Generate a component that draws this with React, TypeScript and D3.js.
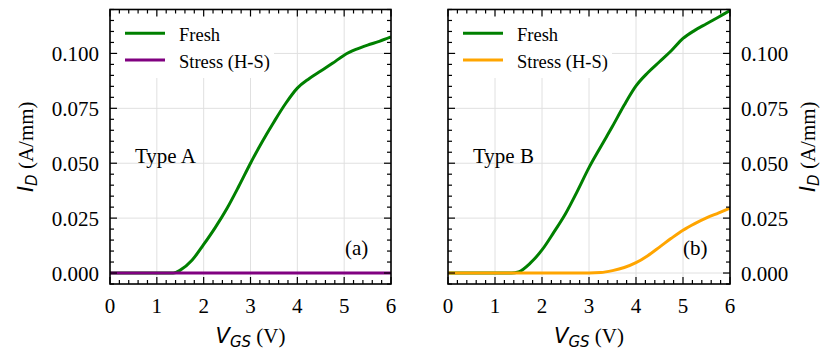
import React from "react";
import * as d3 from "d3";

// gate voltage sweep (V)
const vgs = [0, 0.25, 0.5, 0.75, 1, 1.25, 1.35, 1.5, 1.75, 2, 2.25, 2.5, 2.75, 3, 3.25, 3.5, 3.75, 4, 4.25, 4.5, 4.75, 5, 5.25, 5.5, 5.75, 6];

// drain current (A/mm)
const freshA = [0, 0, 0, 0, 0, 0, 0, 0.0013, 0.0058, 0.013, 0.0208, 0.0295, 0.0395, 0.05, 0.0598, 0.0688, 0.0772, 0.0842, 0.0885, 0.092, 0.0955, 0.0992, 0.1018, 0.1038, 0.1055, 0.1075];
const stressA = [0, 0, 0, 0, 0, 0, 0, 0, 0, 0, 0, 0, 0, 0, 0, 0, 0, 0, 0, 0, 0, 0, 0, 0, 0, 0];
const freshB = [0, 0, 0, 0, 0, 0, 0, 0.0005, 0.0045, 0.0105, 0.0185, 0.027, 0.0372, 0.048, 0.0575, 0.0668, 0.0765, 0.0852, 0.0912, 0.0962, 0.1012, 0.1068, 0.1105, 0.1135, 0.1165, 0.1195];
const stressB = [0, 0, 0, 0, 0, 0, 0, 0, 0, 0, 0, 0, 0, 0, 0.0002, 0.0011, 0.0025, 0.0047, 0.0079, 0.0118, 0.0158, 0.0195, 0.0225, 0.0251, 0.0273, 0.0295];

const xTicks = [0, 1, 2, 3, 4, 5, 6];
const yTicks = [0, 0.025, 0.05, 0.075, 0.1];
const legendLabels = ["Fresh", "Stress (H-S)"];

const W = 822;
const H = 352;
const top = 9.5;
const bottom = 284;
const serif = "'Liberation Serif', 'Times New Roman', serif";
const sans = "'DejaVu Sans', sans-serif";

type PanelProps = {
  left: number;
  right: number;
  fresh: number[];
  stress: number[];
  stressColor: string;
  typeLabel: string;
  tag: string;
  tagX: number;
  yOnRight: boolean;
  id: string;
};

function Panel({ left, right, fresh, stress, stressColor, typeLabel, tag, tagX, yOnRight, id }: PanelProps) {
  const x = d3.scaleLinear().domain([0, 6]).range([left, right]);
  const y = d3.scaleLinear().domain([-0.005, 0.12]).range([bottom, top]);

  const line = d3
    .line<number>()
    .x((_, i) => x(vgs[i]))
    .y((d) => y(d))
    .curve(d3.curveMonotoneX);

  const xMinor = d3.range(0, 6.001, 0.2).filter((v) => Math.abs(v - Math.round(v)) > 0.01);
  const yMinor = d3.range(-0.005, 0.1201, 0.005).filter((v) => Math.abs(v / 0.025 - Math.round(v / 0.025)) > 0.01);

  const majorLen = 7;
  const minorLen = 4;
  const tickStroke = 1.2;

  const legX = left + 15;
  const legendBoxW = 156;

  const labelX = yOnRight ? right + 11 : left - 11;
  const axisLabelX = yOnRight ? 815 : 32.5;
  const cy = (top + bottom) / 2;
  const cx = (left + right) / 2;

  return (
    <g>
      <defs>
        <clipPath id={id}>
          <rect x={left} y={top} width={right - left} height={bottom - top} />
        </clipPath>
      </defs>

      {/* grid */}
      {xTicks.map((t) => (
        <line key={"gx" + t} x1={x(t)} x2={x(t)} y1={top} y2={bottom} stroke="#e0e0e0" strokeWidth={1} />
      ))}
      {yTicks.map((t) => (
        <line key={"gy" + t} x1={left} x2={right} y1={y(t)} y2={y(t)} stroke="#e0e0e0" strokeWidth={1} />
      ))}

      {/* legend background hides grid */}
      <rect x={left + 8} y={16} width={legendBoxW} height={62} fill="white" />

      {/* curves */}
      <g clipPath={`url(#${id})`}>
        <path d={line(fresh) ?? ""} fill="none" stroke="#008000" strokeWidth={3} />
        <path d={line(stress) ?? ""} fill="none" stroke={stressColor} strokeWidth={3} />
      </g>

      {/* legend */}
      <line x1={legX} x2={legX + 40} y1={33.3} y2={33.3} stroke="#008000" strokeWidth={3} />
      <line x1={legX} x2={legX + 40} y1={60} y2={60} stroke={stressColor} strokeWidth={3} />
      <text x={legX + 54} y={40.5} fontFamily={serif} fontSize={18.5}>{legendLabels[0]}</text>
      <text x={legX + 54} y={67.5} fontFamily={serif} fontSize={18.5}>{legendLabels[1]}</text>

      {/* annotations */}
      <text x={left + 25} y={163} fontFamily={serif} fontSize={21}>{typeLabel}</text>
      <text x={tagX} y={255} fontFamily={serif} fontSize={21}>{tag}</text>

      {/* ticks inward on all sides */}
      {xTicks.map((t) => (
        <g key={"tx" + t}>
          <line x1={x(t)} x2={x(t)} y1={bottom} y2={bottom - majorLen} stroke="black" strokeWidth={tickStroke} />
          <line x1={x(t)} x2={x(t)} y1={top} y2={top + majorLen} stroke="black" strokeWidth={tickStroke} />
        </g>
      ))}
      {xMinor.map((t) => (
        <g key={"mx" + t}>
          <line x1={x(t)} x2={x(t)} y1={bottom} y2={bottom - minorLen} stroke="black" strokeWidth={tickStroke} />
          <line x1={x(t)} x2={x(t)} y1={top} y2={top + minorLen} stroke="black" strokeWidth={tickStroke} />
        </g>
      ))}
      {yTicks.map((t) => (
        <g key={"ty" + t}>
          <line x1={left} x2={left + majorLen} y1={y(t)} y2={y(t)} stroke="black" strokeWidth={tickStroke} />
          <line x1={right} x2={right - majorLen} y1={y(t)} y2={y(t)} stroke="black" strokeWidth={tickStroke} />
        </g>
      ))}
      {yMinor.map((t) => (
        <g key={"my" + t}>
          <line x1={left} x2={left + minorLen} y1={y(t)} y2={y(t)} stroke="black" strokeWidth={tickStroke} />
          <line x1={right} x2={right - minorLen} y1={y(t)} y2={y(t)} stroke="black" strokeWidth={tickStroke} />
        </g>
      ))}

      {/* frame */}
      <rect x={left} y={top} width={right - left} height={bottom - top} fill="none" stroke="black" strokeWidth={1.6} />

      {/* tick labels */}
      {xTicks.map((t) => (
        <text key={"lx" + t} x={x(t)} y={313} textAnchor="middle" fontFamily={serif} fontSize={21}>
          {t}
        </text>
      ))}
      {yTicks.map((t) => (
        <text
          key={"ly" + t}
          x={labelX}
          y={y(t) + 7.5}
          textAnchor={yOnRight ? "start" : "end"}
          fontFamily={serif}
          fontSize={21}
        >
          {d3.format(".3f")(t)}
        </text>
      ))}

      {/* axis labels */}
      <text x={cx} y={343} textAnchor="middle" fontSize={21} fontFamily={serif}>
        <tspan fontFamily={sans} fontStyle="italic">V</tspan>
        <tspan fontFamily={sans} fontStyle="italic" fontSize={15} dy={4}>GS</tspan>
        <tspan dy={-4}> (V)</tspan>
      </text>
      <text
        transform={`translate(${axisLabelX},${cy}) rotate(-90)`}
        textAnchor="middle"
        fontSize={21}
        fontFamily={serif}
      >
        <tspan fontFamily={sans} fontStyle="italic">I</tspan>
        <tspan fontFamily={sans} fontStyle="italic" fontSize={15} dy={4}>D</tspan>
        <tspan dy={-4}> (A/mm)</tspan>
      </text>
    </g>
  );
}

export default function App() {
  return (
    <svg width={W} height={H} style={{ position: "absolute", left: 0, top: 0, background: "white" }}>
      <rect width={W} height={H} fill="white" />
      <Panel
        id="clipA"
        left={110}
        right={391}
        fresh={freshA}
        stress={stressA}
        stressColor="#800080"
        typeLabel="Type A"
        tag="(a)"
        tagX={345}
        yOnRight={false}
      />
      <Panel
        id="clipB"
        left={448}
        right={730}
        fresh={freshB}
        stress={stressB}
        stressColor="#FFA500"
        typeLabel="Type B"
        tag="(b)"
        tagX={683}
        yOnRight={true}
      />
    </svg>
  );
}
